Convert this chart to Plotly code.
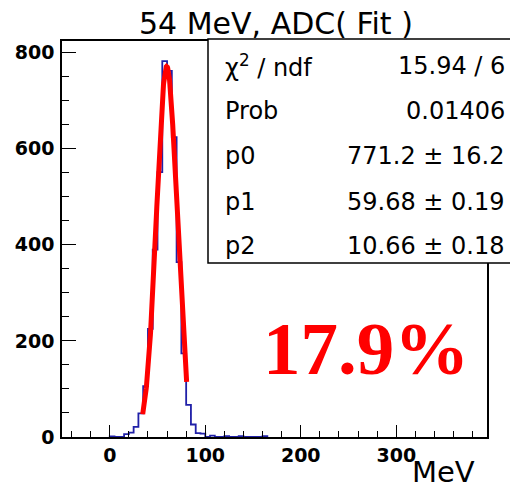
import numpy as np
import plotly.graph_objects as go

# ---------------- data ----------------
bin_width = 5
bin_left = list(range(0, 165, 5))
counts = [1, 0, 0, 6, 9, 21, 49, 106, 225, 390, 551, 782, 762, 624, 364, 174,
          67, 26, 8, 7, 0, 3, 0, 0, 2, 0, 0, 2, 0, 0, 0, 0, 2]

fit_p0, fit_p1, fit_p2 = 771.2, 59.68, 10.66
fit_range = [34.5, 80.5]

title_text = "54 MeV, ADC( Fit )"
stats_labels = ["\u03c7<sup>2</sup> / ndf", "Prob", "p0", "p1", "p2"]
stats_values = ["15.94 / 6", "0.01406", "771.2 \u00b1 16.2", "59.68 \u00b1 0.19", "10.66 \u00b1 0.18"]
resolution_text = "17.9%"
x_title = "MeV"

x_range = [-50, 395]
y_range = [0, 824]

# ---------------- layout geometry (pixels) ----------------
W, H = 510, 491
PL, PR, PT, PB = 62, 487, 41, 437


def px(x):
    return (x - PL) / (PR - PL)


def py(y):
    return (PB - y) / (PB - PT)


fig = go.Figure()

# histogram outline
hx = [bin_left[0]] + bin_left + [bin_left[-1] + bin_width]
hy = [0] + counts + [0]
fig.add_trace(go.Scatter(x=hx, y=hy, mode="lines", line_shape="hv",
                         line=dict(color="#2020a8", width=1.8),
                         hoverinfo="skip", showlegend=False))

# gaussian fit curve (evaluated from the displayed fit parameters)
fx = np.linspace(fit_range[0], fit_range[1], 200)
fy = fit_p0 * np.exp(-0.5 * ((fx - fit_p1) / fit_p2) ** 2)
fig.add_trace(go.Scatter(x=fx, y=fy, mode="lines",
                         line=dict(color="#ff0000", width=5),
                         hoverinfo="skip", showlegend=False))

axis_common = dict(showgrid=False, zeroline=False, showline=True, mirror=True,
                   linecolor="black", linewidth=1.5, ticks="inside",
                   tickcolor="black", tickwidth=1.2,
                   tickfont=dict(family="DejaVu Sans", size=19, color="black", weight="bold"))

fig.update_xaxes(range=x_range, tick0=0, dtick=100, ticklen=12,
                 minor=dict(dtick=20, ticklen=6, ticks="inside", tickcolor="black", tickwidth=1.2),
                 ticklabelstandoff=0, **axis_common)
fig.update_yaxes(range=y_range, tick0=0, dtick=200, ticklen=14,
                 minor=dict(dtick=50, ticklen=7, ticks="inside", tickcolor="black", tickwidth=1.2),
                 ticklabelstandoff=2, **axis_common)

# stats box
shapes = [dict(type="rect", xref="paper", yref="paper",
               x0=px(208), x1=px(520), y0=py(263), y1=py(39),
               fillcolor="white", line=dict(color="black", width=1.5), layer="above")]

annotations = []
row_y = [64, 109, 154, 200, 244]
for lab, val, yy in zip(stats_labels, stats_values, row_y):
    annotations.append(dict(text=lab, xref="paper", yref="paper", x=px(223), y=py(yy + 2),
                            xanchor="left", yanchor="middle", showarrow=False,
                            font=dict(family="DejaVu Sans", size=24, color="black")))
    annotations.append(dict(text=val, xref="paper", yref="paper", x=px(507), y=py(yy + 2),
                            xanchor="right", yanchor="middle", showarrow=False,
                            font=dict(family="DejaVu Sans", size=24, color="black")))

# title
annotations.append(dict(text=title_text, xref="paper", yref="paper", x=px(276), y=py(23),
                        xanchor="center", yanchor="middle", showarrow=False,
                        font=dict(family="DejaVu Sans", size=30, color="black")))
# resolution text
annotations.append(dict(text=resolution_text, xref="paper", yref="paper", x=px(366), y=py(348),
                        xanchor="center", yanchor="middle", showarrow=False,
                        font=dict(family="Liberation Serif", size=75, color="#ff0000", weight="bold")))
# x axis title
annotations.append(dict(text=x_title, xref="paper", yref="paper", x=px(477), y=py(491),
                        xanchor="right", yanchor="bottom", showarrow=False,
                        font=dict(family="DejaVu Sans", size=29, color="black")))

fig.update_layout(width=W, height=H, margin=dict(l=PL, r=W - PR, t=PT, b=H - PB),
                  paper_bgcolor="white", plot_bgcolor="white",
                  shapes=shapes, annotations=annotations, showlegend=False)

fig.write_html("out.html")
